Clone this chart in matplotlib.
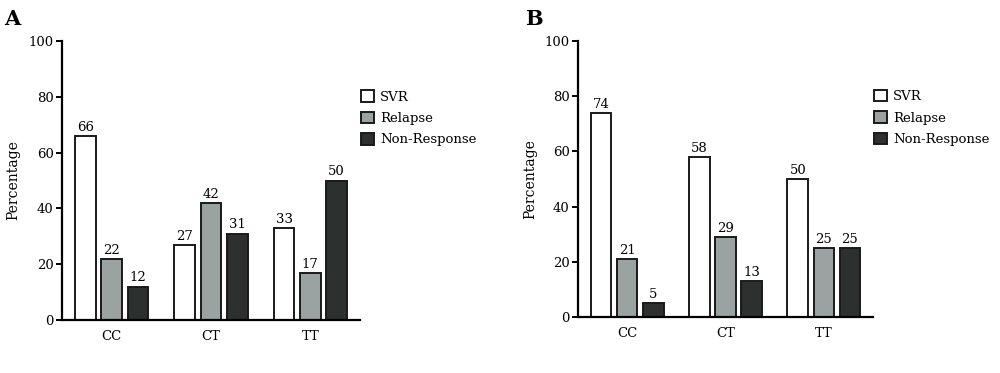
import numpy as np
import matplotlib.pyplot as plt

# data
genotypes = ['CC', 'CT', 'TT']
series = ['SVR', 'Relapse', 'Non-Response']
panel_a = {'SVR': [66, 27, 33], 'Relapse': [22, 42, 17], 'Non-Response': [12, 31, 50]}
panel_b = {'SVR': [74, 58, 50], 'Relapse': [21, 29, 25], 'Non-Response': [5, 13, 25]}
yticks = [0, 20, 40, 60, 80, 100]

COLORS = {'SVR': '#ffffff', 'Relapse': '#9ba3a2', 'Non-Response': '#2c302f'}
BAR_W = 0.21
STEP = 0.265
FONT = 'DejaVu Serif'

plt.rcParams['font.family'] = FONT
plt.rcParams['font.size'] = 9


def draw_panel(fig, rect, data, letter, letter_x, pad):
    """ Draws one grouped bar panel with legend to its right """
    ax = fig.add_axes(rect)
    x = np.arange(len(genotypes))
    for i, name in enumerate(series):
        pos = x + (i - 1) * STEP
        bars = ax.bar(pos, data[name], width=BAR_W, color=COLORS[name],
                      edgecolor='#1a1a1a', linewidth=1.4, label=name)
        ax.bar_label(bars, padding=1.5, fontsize=9.5)
    # axes styling
    ax.set_xlim(-0.5, 2.5)
    ax.set_ylim(0, 100)
    ax.set_yticks(yticks)
    ax.set_xticks(x)
    ax.set_xticklabels(genotypes, fontsize=9.5)
    ax.tick_params(axis='x', length=0, pad=7)
    ax.tick_params(axis='y', length=4, width=1.4, pad=2, labelsize=9.5)
    for side in ['top', 'right']:
        ax.spines[side].set_visible(False)
    for side in ['left', 'bottom']:
        ax.spines[side].set_linewidth(1.6)
    ax.set_ylabel('Percentage', fontsize=10, labelpad=pad)
    ax.legend(loc='upper left', bbox_to_anchor=(1.005, 0.823), frameon=False,
              borderaxespad=0, borderpad=0, handlelength=0.95, handleheight=0.95,
              handletextpad=0.45, labelspacing=0.62, fontsize=9.5)
    fig.text(letter_x, 0.975, letter, fontsize=15, fontweight='bold',
             va='top', ha='left')
    return ax


fig = plt.figure(figsize=(10, 3.73), dpi=100)
draw_panel(fig, [0.062, 0.142, 0.298, 0.748], panel_a, 'A', 0.004, 6)
draw_panel(fig, [0.578, 0.150, 0.295, 0.740], panel_b, 'B', 0.525, 5)
fig.savefig('out.png', dpi=100, facecolor='white')
